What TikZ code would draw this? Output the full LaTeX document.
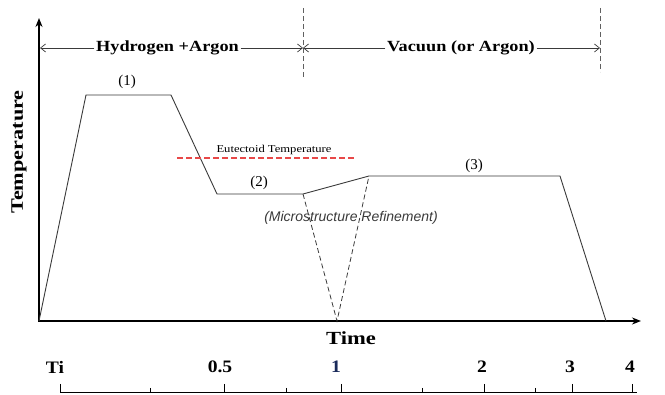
\documentclass[tikz,border=0pt]{standalone}
\usepackage{fontspec}
\setmainfont{Liberation Serif}
\newfontfamily\arialf{Liberation Sans}
\usetikzlibrary{arrows.meta}
\definecolor{prof}{HTML}{3A3A3A}
\definecolor{eut}{HTML}{E84848}
\definecolor{gasdash}{HTML}{606060}
\definecolor{navy}{HTML}{1A2A5A}
\begin{document}
\begin{tikzpicture}[x=1pt,y=-1pt,
  profile/.style={draw=prof, line width=0.9pt},
  axisline/.style={draw=black,line width=1.8pt,{Stealth[length=9pt,width=7pt]}-{Stealth[length=9pt,width=7pt]}},
  gasarrow/.style={draw=prof,line width=0.7pt,-{Straight Barb[length=5pt,width=8pt]}},
  zone/.style={draw=gasdash,line width=0.9pt,dash pattern=on 5pt off 3pt},
  vdash/.style={draw=prof,line width=0.8pt,dash pattern=on 5pt off 3pt},
  eutline/.style={draw=eut,line width=1.1pt,dash pattern=on 6pt off 3pt},
  gaslabel/.style={font=\fontsize{15.5}{18}\selectfont\bfseries, inner sep=1.5pt},
  stagelabel/.style={font=\fontsize{15}{18}\selectfont, inner sep=0pt},
  scalelabel/.style={font=\fontsize{17.5}{20}\selectfont\bfseries, inner sep=0pt},
  ticklong/.style={draw=black,line width=1pt},
]
\useasboundingbox (0,0) rectangle (665,395);

% axes
\coordinate (O) at (39,321);
\coordinate (ytop) at (39,18);
\coordinate (xend) at (641,321);
\draw[axisline] (ytop) -- (O) -- (xend);

% temperature profile
\coordinate (p1) at (86,95);
\coordinate (p2) at (171,95);
\coordinate (p3) at (217,194);
\coordinate (p4) at (303,194);
\coordinate (p5) at (369,176);
\coordinate (p6) at (560,176);
\coordinate (p7) at (606,321);
\coordinate (vb) at (337,321);
\draw[profile] (O) -- (p1) -- (p2) -- (p3) -- (p4) -- (p5) -- (p6) -- (p7);
\draw[vdash] (p4) -- (vb) -- (p5);

% eutectoid
\coordinate (e1) at (177,158);
\coordinate (e2) at (356,158);
\draw[eutline] (e1) -- (e2);
\node[font=\fontsize{10.5}{12}\selectfont, inner sep=0pt] (eutlab) at (274,150) {\scalebox{1.2}[1]{Eutectoid Temperature}};

% stage labels
\node[stagelabel] (s1) at (127,82) {(1)};
\node[stagelabel] (s2) at (259,183) {(2)};
\node[stagelabel] (s3) at (474,166) {(3)};
\node[font=\arialf\itshape\fontsize{14}{16}\selectfont, text=prof, inner sep=0pt] (micro) at (351,218) {(Microstructure Refinement)};

% gas zones
\coordinate (d1t) at (303,8);
\coordinate (d1b) at (303,78);
\coordinate (d2t) at (600,8);
\coordinate (d2b) at (600,72);
\draw[zone] (d1t) -- (d1b);
\draw[zone] (d2t) -- (d2b);
\coordinate (gL) at (40,48);
\coordinate (gM) at (303,48);
\coordinate (gR) at (600,48);
\node[gaslabel] (hyd) at (167.5,48) {\scalebox{1.18}[1]{Hydrogen +Argon}};
\node[gaslabel] (vac) at (461,48) {\scalebox{1.18}[1]{Vacuun (or Argon)}};
\draw[gasarrow] (hyd.west) -- (gL);
\draw[gasarrow] (hyd.east) -- (gM);
\draw[gasarrow] (vac.west) -- (gM);
\draw[gasarrow] (vac.east) -- (gR);

% axis titles
\node[font=\fontsize{17.5}{20}\selectfont\bfseries, rotate=90, inner sep=0pt] (temp) at (19,152) {\scalebox{1.27}[1]{Temperature}};
\node[font=\fontsize{18.5}{21}\selectfont\bfseries, inner sep=0pt] (time) at (351,338) {\scalebox{1.22}[1]{Time}};

% bottom scale
\coordinate (b1) at (60,393);
\coordinate (b2) at (637,393);
\draw[ticklong] (b1) -- (b2);
\foreach \x in {60,224,341,484,572,632} \draw[ticklong] (\x,384) -- (\x,393);
\foreach \x in {150,286,422,535} \draw[ticklong] (\x,388) -- (\x,393);
\node[scalelabel] (lTi) at (55,367) {\scalebox{1.12}[1]{Ti}};
\node[scalelabel] (l05) at (220,367) {\scalebox{1.12}[1]{0.5}};
\node[scalelabel, text=navy] (l1) at (336,367) {\scalebox{1.12}[1]{1}};
\node[scalelabel] (l2) at (482,367) {\scalebox{1.12}[1]{2}};
\node[scalelabel] (l3) at (570,367) {\scalebox{1.12}[1]{3}};
\node[scalelabel] (l4) at (630,367) {\scalebox{1.12}[1]{4}};
\end{tikzpicture}
\end{document}
